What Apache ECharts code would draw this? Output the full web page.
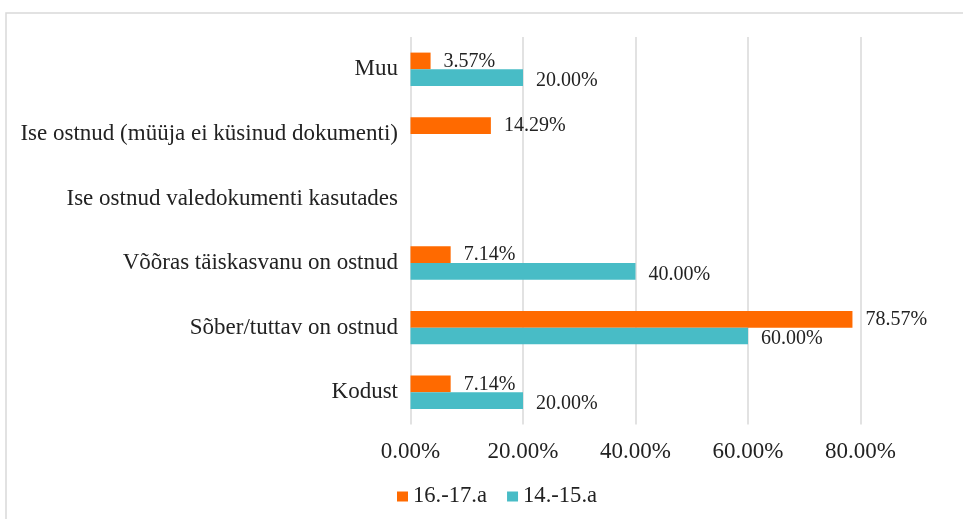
<!DOCTYPE html>
<html>
<head>
<meta charset="utf-8">
<script src="https://cdn.jsdelivr.net/npm/echarts@6/dist/echarts.min.js"></script>
<style>
  html, body { margin: 0; padding: 0; background: #fff; }
  #chart { width: 963px; height: 519px; }
</style>
</head>
<body>
<div id="chart"></div>
<script>
// Categories listed bottom to top (category axis starts at the bottom)
const categories = [
  'Kodust',
  'Sõber/tuttav on ostnud',
  'Võõras täiskasvanu on ostnud',
  'Ise ostnud valedokumenti kasutades',
  'Ise ostnud (müüja ei küsinud dokumenti)',
  'Muu'
];
const seriesNames = ['16.-17.a', '14.-15.a'];
const values1617 = [7.14, 78.57, 7.14, null, 14.29, 3.57];
const values1415 = [20.00, 60.00, 40.00, null, null, 20.00];
const axisTicks = [0, 20, 40, 60, 80, 100];

const FONT = 'Liberation Serif';
const TEXT = '#222222';

const chart = echarts.init(document.getElementById('chart'), null, { renderer: 'canvas' });

const pct = v => v.toFixed(2) + '%';

const dataLabel = dy => ({
  show: true,
  position: 'right',
  distance: 13,
  offset: [0, dy],
  fontFamily: FONT,
  fontSize: 20,
  color: TEXT,
  formatter: p => (p.value == null ? '' : pct(p.value))
});

chart.setOption({
  animation: false,
  backgroundColor: '#fff',
  graphic: [{
    type: 'rect',
    shape: { x: 6, y: 13, width: 1000, height: 1000 },
    style: { fill: 'none', stroke: '#d9d9d9', lineWidth: 1.5 },
    silent: true,
    z: -10
  }],
  // plot area runs past the right edge; the 100% gridline sits off-canvas
  grid: { left: 410.5, top: 37, width: 562.5, height: 387.5, outerBoundsMode: 'none' },
  legend: {
    data: seriesNames,
    left: 397,
    top: 485,
    padding: 0,
    itemWidth: 11,
    itemHeight: 10,
    itemGap: 20,
    icon: 'rect',
    textStyle: { fontFamily: FONT, fontSize: 22.6, color: TEXT }
  },
  xAxis: {
    type: 'value',
    min: axisTicks[0],
    max: axisTicks[axisTicks.length - 1],
    interval: axisTicks[1] - axisTicks[0],
    axisLine: { show: false },
    axisTick: { show: false },
    splitLine: { show: true, lineStyle: { color: '#d9d9d9', width: 1.5 } },
    axisLabel: {
      margin: 16,
      fontFamily: FONT,
      fontSize: 23,
      color: TEXT,
      formatter: v => (v >= 100 ? '' : pct(v))
    }
  },
  yAxis: {
    type: 'category',
    data: categories,
    axisLine: { show: false },
    axisTick: { show: false },
    axisLabel: {
      margin: 12.5,
      fontFamily: FONT,
      fontSize: 23,
      color: TEXT
    }
  },
  series: [
    {
      name: seriesNames[0],
      type: 'bar',
      data: values1617,
      barWidth: 16.7,
      barGap: '0%',
      itemStyle: { color: '#FF6A00' },
      label: dataLabel(0.5)
    },
    {
      name: seriesNames[1],
      type: 'bar',
      data: values1415,
      barWidth: 16.7,
      barGap: '0%',
      itemStyle: { color: '#48BCC6' },
      label: dataLabel(3)
    }
  ]
});
</script>
</body>
</html>
